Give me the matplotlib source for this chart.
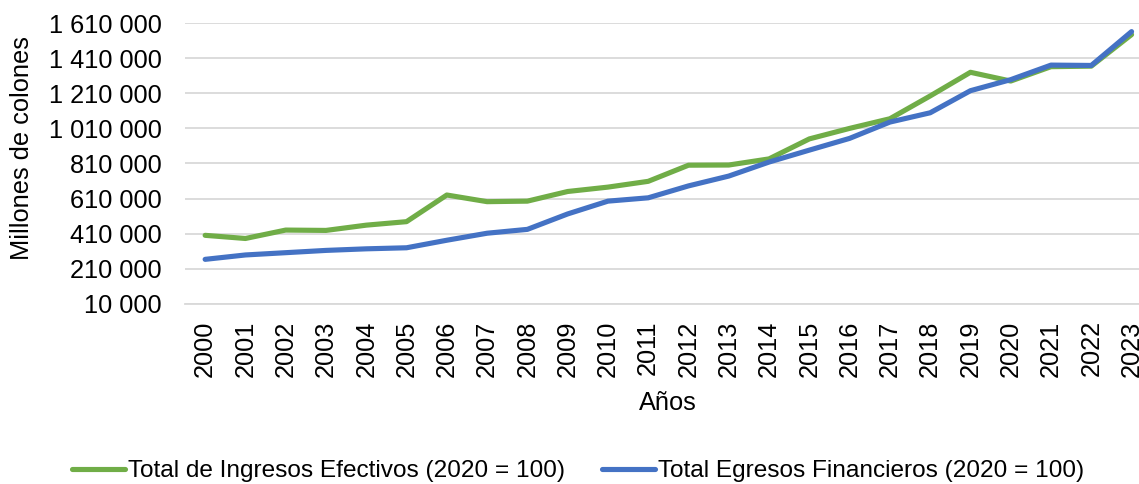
import matplotlib
matplotlib.use("Agg")
import matplotlib.pyplot as plt
from matplotlib.ticker import FixedLocator, FuncFormatter
from matplotlib.lines import Line2D

plt.rcParams['font.family'] = ['Liberation Sans', 'DejaVu Sans']

years = [str(y) for y in range(2000, 2024)]
ingresos = [400000, 382000, 430000, 428000, 458000, 478000, 630000, 592000,
            595000, 650000, 675000, 708000, 800000, 801000, 836000, 950000,
            1010000, 1065000, 1195000, 1330000, 1280000, 1362000, 1365000, 1545000]
egresos = [263000, 288000, 301000, 314000, 323000, 329000, 372000, 412000,
           434000, 522000, 595000, 614000, 682000, 738000, 818000, 886000,
           953000, 1046000, 1099000, 1225000, 1288000, 1371000, 1369000, 1562000]

ingresos_label = "Total de Ingresos Efectivos (2020 = 100)"
egresos_label = "Total Egresos Financieros (2020 = 100)"
y_ticks = [10000 + 200000 * i for i in range(9)]

green = "#70AD47"
blue = "#4472C4"
grid = "#D9D9D9"

W, H = 1139, 484
fig = plt.figure(figsize=(W / 100, H / 100), dpi=100)
left, right = 185, 1151.7
top, bottom = 23.2, 303.7
ax = fig.add_axes([left / W, (H - bottom) / H, (right - left) / W, (bottom - top) / H])

x = list(range(len(years)))
ax.plot(x, ingresos, color=green, lw=3.7, solid_capstyle='round', solid_joinstyle='round', zorder=3)
ax.plot(x, egresos, color=blue, lw=3.7, solid_capstyle='round', solid_joinstyle='round', zorder=4)

ax.set_xlim(-0.5, len(years) - 0.5)
ax.set_ylim(y_ticks[0], y_ticks[-1])
ax.yaxis.set_major_locator(FixedLocator(y_ticks))
ax.yaxis.set_major_formatter(FuncFormatter(lambda v, p: f"{int(round(v)):,}".replace(",", " ")))
ax.set_xticks(x)
ax.set_xticklabels(years, rotation=90, fontsize=18.3)
ax.tick_params(axis='y', labelsize=18.3, length=0, pad=17)
ax.tick_params(axis='x', length=0, pad=12)
ax.grid(axis='y', color=grid, lw=1.3, zorder=0)
for s in ['top', 'right', 'left']:
    ax.spines[s].set_visible(False)
ax.spines['bottom'].set_color(grid)
ax.spines['bottom'].set_linewidth(1.3)
for lab in ax.get_yticklabels() + ax.get_xticklabels():
    lab.set_color("#000000")

fig.text(22 / W, 1 - 148 / H, "Millones de colones", rotation=90, fontsize=18.3,
         ha='center', va='center')
fig.text(668 / W, 1 - 403 / H, "Años", fontsize=18.3, ha='center', va='center')

handles = [Line2D([0], [0], color=green, lw=3.7, solid_capstyle='round'),
           Line2D([0], [0], color=blue, lw=3.7, solid_capstyle='round')]
fig.legend(handles, [ingresos_label, egresos_label], loc='center',
           bbox_to_anchor=(578 / W, 1 - 471 / H), ncol=2, frameon=False,
           fontsize=17.6, handlelength=2.17, handletextpad=0.12, columnspacing=1.5)

fig.savefig("out.png", dpi=100)
